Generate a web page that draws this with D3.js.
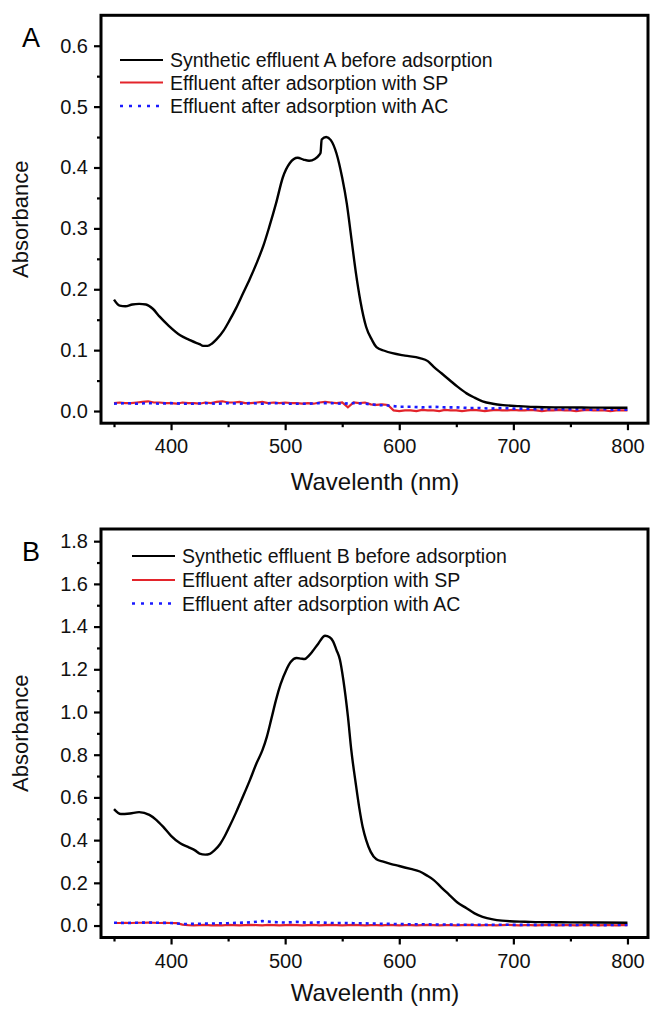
<!DOCTYPE html>
<html>
<head>
<meta charset="utf-8">
<script src="https://cdn.jsdelivr.net/npm/d3@7"></script>
<style>
  body { margin: 0; background: #fff; }
  svg { display: block; font-family: "Liberation Sans", Arial, sans-serif; }
  .tick text { font-size: 20px; fill: #111; }
  .tick line { stroke: #000; stroke-width: 2.2; }
</style>
</head>
<body>
<div id="chart"></div>
<script>
// sampling grids of the two flat post-adsorption spectra
const grid5 = d3.range(350, 801, 5)
const grid10 = d3.range(350, 801, 10)

// panel A - synthetic effluent A
const blackA_wl = [350,355,360,366,372,378,384,390,398,408,416,422,425,428,432,436,440,446,451,457,
    463,469,475,481,486,492,498,504,511,516,521,526,530,531,532,536,540,545,550,554,
    558,562,566,571,576,580,587,594,605,618,625,630,637,644,651,659,666,673,682,691,
    705,720,740,760,780,800]
const blackA = [.183,.173,.172,.175,.176,.175,.168,.155,.140,.1245,.117,.112,.110,.107,.107,.111,.118,.132,.148,.169,
    .193,.217,.243,.272,.302,.341,.384,.407,.416,.413,.411,.414,.421,.424,.446,.450,.445,.423,.383,.341,
    .284,.227,.180,.138,.117,.105,.099,.095,.091,.087,.082,.073,.062,.051,.040,.029,.022,.016,.012,.0097,
    .008,.0065,.006,.0058,.0055,.0055]
const redA = [.013,.014,.013,.013,.014,.015,.016,.014,.014,.013,
    .013,.012,.014,.013,.013,.012,.014,.013,.015,.016,
    .014,.014,.015,.013,.013,.014,.015,.013,.014,.013,
    .014,.013,.013,.012,.013,.012,.014,.015,.014,.013,
    .014,.006,.014,.013,.014,.011,.010,.011,.010,
    .001,.000,.001,.001,.000,.002,.001,.001,.000,.002,
    .001,.001,.000,.001,.002,.001,.000,.001,.002,.001,
    .001,.002,.001,.001,.002,.001,.000,.001,.001,.002,
    .001,.001,.000,.001,.002,.001,.001,.001,.000,.001,
    .001,.001]
const blueA = [.012,.013,.012,.013,.012,.013,.012,.012,.013,.012,
    .013,.012,.013,.012,.013,.012,.012,.012,.013,.013,
    .012,.013,.012,.010,.009,.007,.007,.006,.007,.006,
    .006,.005,.005,.004,.005,.004,.004,.003,.003,.003,
    .003,.003,.002,.003,.002,.002]

// panel B - synthetic effluent B
const blackB_wl = [350,356,364,372,381,387,393,400,408,416,421,425,430,434,438,443,447,451,457,463,
    469,475,480,484,488,492,496,501,505,510,514,517,521,524,529,535,539,542,545,548,
    551,555,558,562,565,568,571,575,580,586,593,600,610,618,624,630,637,644,651,659,
    666,673,682,690,697,710,723,750,776,800]
const blackB = [.545,.522,.525,.531,.518,.495,.463,.42,.385,.365,.352,.337,.332,.336,.352,.382,.418,.461,.53,.604,
    .68,.761,.82,.885,.97,1.057,1.13,1.197,1.235,1.253,1.25,1.248,1.265,1.284,1.32,1.357,1.35,1.331,1.29,1.245,
    1.15,.979,.82,.66,.55,.46,.40,.345,.31,.299,.288,.279,.265,.253,.235,.214,.178,.143,.108,.081,
    .057,.041,.029,.023,.02,.018,.016,.015,.014,.013]
const redB = [.012,.012,.013,.012,.013,.013,.014,.013,.012,.013,.012,.011,
    .004,.002,.001,.002,.003,.001,.002,.001,.003,.002,
    .001,.002,.003,.002,.001,.003,.002,.001,.002,.003,
    .002,.001,.002,.003,.001,.002,.003,.002,.001,.002,
    .003,.002,.001,.002,.002,.001,.003,.002,.001,.002,
    .002,.001,.002,.003,.002,.001,.002,.002,.001,.002,
    .003,.002,.001,.002,.002,.001,.002,.003,.002,.001,
    .002,.002,.001,.002,.003,.002,.001,.002,.002,.001,
    .002,.003,.002,.001,.002,.002,.001,.002,.002]
const blueB = [.013,.012,.013,.014,.013,.012,.007,.008,.009,.010,
    .011,.013,.015,.021,.016,.014,.017,.013,.015,.012,
    .012,.011,.010,.009,.008,.007,.006,.006,.005,.005,
    .004,.004,.004,.003,.004,.003,.003,.003,.003,.003,
    .002,.003,.003,.002,.003,.003]

const xTicks = [400, 500, 600, 700, 800]
const xMinor = [350, 450, 550, 650, 750]
const yTicksA = [0, 0.1, 0.2, 0.3, 0.4, 0.5, 0.6]
const yMinorA = [0.05, 0.15, 0.25, 0.35, 0.45, 0.55]
const yTicksB = [0, 0.2, 0.4, 0.6, 0.8, 1.0, 1.2, 1.4, 1.6, 1.8]
const yMinorB = [0.1, 0.3, 0.5, 0.7, 0.9, 1.1, 1.3, 1.5, 1.7]

const seriesNames = ["before adsorption", "Effluent after adsorption with SP", "Effluent after adsorption with AC"]

let W = 651, H = 1009

let svg = d3.select("#chart").append("svg")
    .attr("width", W)
    .attr("height", H)

function panel(o) {
    let x = d3.scaleLinear().domain([338.6, 818]).range([101, 648])
    let y = d3.scaleLinear().domain(o.yDomain).range([o.bottom, o.top])

    let g = svg.append("g")

    // minor ticks first, then major with labels
    g.append("g")
        .attr("transform", "translate(0," + o.bottom + ")")
        .call(d3.axisBottom(x).tickValues(xMinor).tickSize(4).tickFormat(""))
    g.append("g")
        .attr("transform", "translate(0," + o.bottom + ")")
        .call(d3.axisBottom(x).tickValues(xTicks).tickSize(7).tickPadding(9))
    g.append("g")
        .attr("transform", "translate(101,0)")
        .call(d3.axisLeft(y).tickValues(o.yMinor).tickSize(4).tickFormat(""))
    g.append("g")
        .attr("transform", "translate(101,0)")
        .call(d3.axisLeft(y).tickValues(o.yTicks).tickSize(7).tickPadding(6).tickFormat(d3.format(".1f")))
    g.selectAll(".domain").remove()

    g.append("rect")
        .attr("x", 101).attr("y", o.top)
        .attr("width", 648 - 101).attr("height", o.bottom - o.top)
        .attr("fill", "none").attr("stroke", "#000").attr("stroke-width", 3)

    let clip = "clip" + o.label
    g.append("clipPath").attr("id", clip).append("rect")
        .attr("x", 102).attr("y", o.top + 1).attr("width", 545).attr("height", o.bottom - o.top - 2)

    let line = d3.line().x(d => x(d[0])).y(d => y(d[1]))
    let plot = g.append("g").attr("clip-path", "url(#" + clip + ")")

    plot.append("path")
        .datum(d3.zip(grid5, o.red))
        .attr("d", line)
        .attr("fill", "none").attr("stroke", "#e3242b").attr("stroke-width", 2.2)
    plot.append("path")
        .datum(d3.zip(grid10, o.blue))
        .attr("d", line)
        .attr("fill", "none").attr("stroke", "#1a1aff").attr("stroke-width", 2.6)
        .attr("stroke-dasharray", "3,4")
    plot.append("path")
        .datum(d3.zip(o.blackWl, o.black))
        .attr("d", line.curve(d3.curveMonotoneX))
        .attr("fill", "none").attr("stroke", "#000").attr("stroke-width", 2.4)

    // legend
    let legend = g.append("g")
    let items = [
        { name: "Synthetic effluent " + o.label + " " + seriesNames[0], color: "#000", dash: null, w: 2.2 },
        { name: seriesNames[1], color: "#e3242b", dash: null, w: 2.2 },
        { name: seriesNames[2], color: "#1a1aff", dash: "3,6", w: 2.6 }
    ]
    items.forEach((it, i) => {
        let ly = o.legY[i]
        legend.append("line")
            .attr("x1", o.legX).attr("x2", o.legX + 43)
            .attr("y1", ly).attr("y2", ly)
            .attr("stroke", it.color).attr("stroke-width", it.w)
            .attr("stroke-dasharray", it.dash)
        legend.append("text")
            .attr("x", o.legX + 50).attr("y", ly + 7)
            .style("font-size", "19.5px").attr("fill", "#111")
            .text(it.name)
    })

    g.append("text")
        .attr("x", 22).attr("y", o.top + 32)
        .style("font-size", "27px")
        .text(o.label)

    g.append("text")
        .attr("text-anchor", "middle")
        .attr("x", 375).attr("y", o.titleY)
        .style("font-size", "24px").attr("fill", "#111")
        .text("Wavelenth (nm)")

    g.append("text")
        .attr("text-anchor", "middle")
        .attr("transform", "translate(28," + ((o.top + o.bottom) / 2) + ") rotate(-90)")
        .style("font-size", "22px").attr("fill", "#111")
        .text("Absorbance")
}

panel({
    label: "A", top: 15.3, bottom: 423.2, yDomain: [-0.02, 0.65],
    yTicks: yTicksA, yMinor: yMinorA, titleY: 490,
    blackWl: blackA_wl, black: blackA, red: redA, blue: blueA,
    legX: 120, legY: [60, 82.5, 106]
})

panel({
    label: "B", top: 529, bottom: 937.5, yDomain: [-0.056, 1.857],
    yTicks: yTicksB, yMinor: yMinorB, titleY: 1001,
    blackWl: blackB_wl, black: blackB, red: redB, blue: blueB,
    legX: 132, legY: [556, 580, 603.5]
})
</script>
</body>
</html>
